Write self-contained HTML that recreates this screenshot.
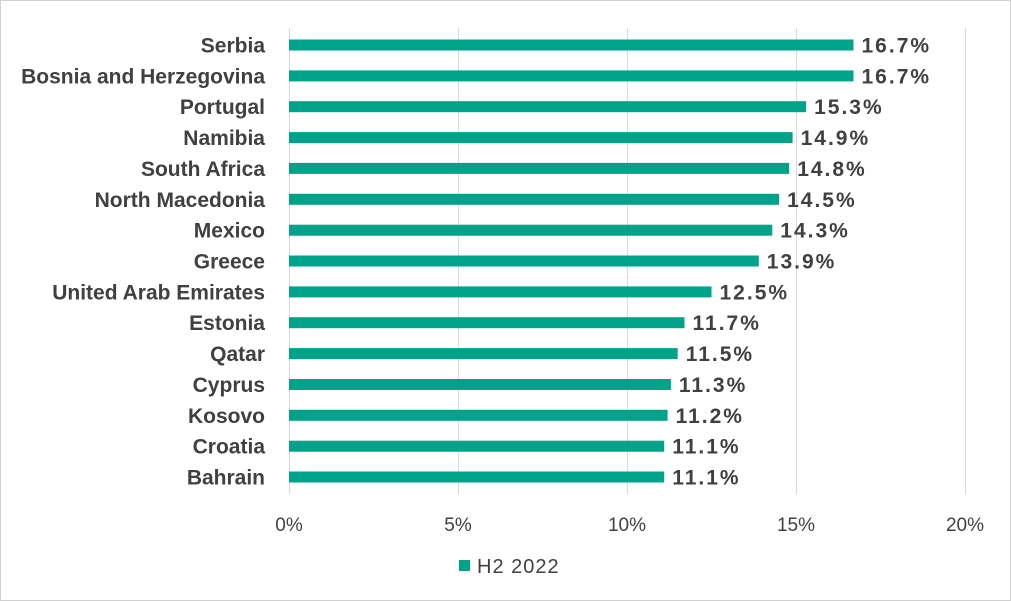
<!DOCTYPE html>
<html><head><meta charset="utf-8"><style>
body{margin:0;background:#fff;}
svg{display:block;font-family:"Liberation Sans",Arial,sans-serif;}
</style></head><body>
<svg width="1011" height="601" viewBox="0 0 1011 601" xmlns="http://www.w3.org/2000/svg">
<rect x="0.5" y="0.5" width="1010" height="600" fill="#fff" stroke="#d0d0d0"/>
<g stroke="#d9d9d9" stroke-width="1">
<line x1="289.5" y1="28" x2="289.5" y2="494"/>
<line x1="458.5" y1="28" x2="458.5" y2="494"/>
<line x1="627.5" y1="28" x2="627.5" y2="494"/>
<line x1="796.5" y1="28" x2="796.5" y2="494"/>
<line x1="965.5" y1="28" x2="965.5" y2="494"/>
</g>
<g font-size="19" fill="#404040" text-anchor="middle">
<text x="289" y="531">0%</text>
<text x="458" y="531">5%</text>
<text x="627" y="531">10%</text>
<text x="796" y="531">15%</text>
<text x="965" y="531">20%</text>
</g>
<g fill="#00A38A">
<rect x="289" y="39.5" width="564.5" height="11"/>
<rect x="289" y="70.4" width="564.5" height="11"/>
<rect x="289" y="101.2" width="517.1" height="11"/>
<rect x="289" y="132.1" width="503.6" height="11"/>
<rect x="289" y="162.9" width="500.2" height="11"/>
<rect x="289" y="193.8" width="490.1" height="11"/>
<rect x="289" y="224.7" width="483.3" height="11"/>
<rect x="289" y="255.5" width="469.8" height="11"/>
<rect x="289" y="286.4" width="422.5" height="11"/>
<rect x="289" y="317.2" width="395.5" height="11"/>
<rect x="289" y="348.1" width="388.7" height="11"/>
<rect x="289" y="379.0" width="381.9" height="11"/>
<rect x="289" y="409.8" width="378.6" height="11"/>
<rect x="289" y="440.7" width="375.2" height="11"/>
<rect x="289" y="471.5" width="375.2" height="11"/>
</g>
<g font-size="21" font-weight="bold" fill="#404040" text-anchor="end">
<text x="265" y="52.5">Serbia</text>
<text x="265" y="83.4">Bosnia and Herzegovina</text>
<text x="265" y="114.2">Portugal</text>
<text x="265" y="145.1">Namibia</text>
<text x="265" y="175.9">South Africa</text>
<text x="265" y="206.8">North Macedonia</text>
<text x="265" y="237.7">Mexico</text>
<text x="265" y="268.5">Greece</text>
<text x="265" y="299.4">United Arab Emirates</text>
<text x="265" y="330.2">Estonia</text>
<text x="265" y="361.1">Qatar</text>
<text x="265" y="392">Cyprus</text>
<text x="265" y="422.8">Kosovo</text>
<text x="265" y="453.7">Croatia</text>
<text x="265" y="484.5">Bahrain</text>
</g>
<g font-size="21" font-weight="bold" fill="#404040" letter-spacing="2">
<text x="861.5" y="52.5">16.7%</text>
<text x="861.5" y="83.4">16.7%</text>
<text x="814.1" y="114.2">15.3%</text>
<text x="800.6" y="145.1">14.9%</text>
<text x="797.2" y="175.9">14.8%</text>
<text x="787.1" y="206.8">14.5%</text>
<text x="780.3" y="237.7">14.3%</text>
<text x="766.8" y="268.5">13.9%</text>
<text x="719.5" y="299.4">12.5%</text>
<text x="692.5" y="330.2">11.7%</text>
<text x="685.7" y="361.1">11.5%</text>
<text x="678.9" y="392">11.3%</text>
<text x="675.6" y="422.8">11.2%</text>
<text x="672.2" y="453.7">11.1%</text>
<text x="672.2" y="484.5">11.1%</text>
</g>
<rect x="459" y="560" width="11" height="11" fill="#00A38A"/>
<text x="477" y="573" font-size="20" fill="#404040" letter-spacing="1">H2 2022</text>
</svg>
</body></html>
